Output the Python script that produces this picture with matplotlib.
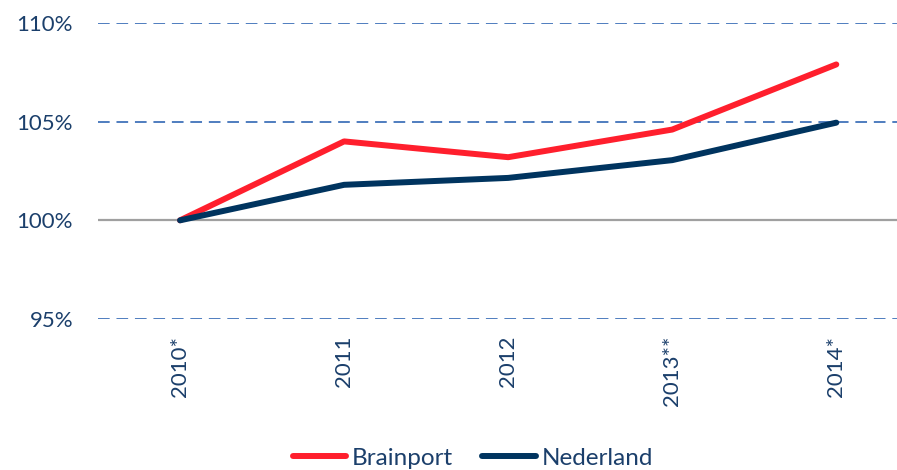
import matplotlib.pyplot as plt

jaren = ['2010*', '2011', '2012', '2013**', '2014*']
brainport = [100.0, 104.0, 103.2, 104.6, 107.9]
nederland = [100.0, 101.8, 102.15, 103.05, 104.95]
yticks = [95, 100, 105, 110]

tekst = '#1B3F6B'
plt.rcParams['font.family'] = ['Lato', 'DejaVu Sans']

fig = plt.figure(figsize=(8.97, 4.70), dpi=100)
ax = fig.add_axes([98 / 897, 1 - 319 / 470, 1 - 98 / 897, (319 - 23) / 470])

x = list(range(len(jaren)))

# rasterlijnen (gestippeld) en de 100%-lijn
for y in [95, 105, 110]:
    ax.axhline(y, color='#4F7DBF', lw=1.4, ls=(0, (6, 3.5)), zorder=1)
ax.axhline(100, color='#A0A0A0', lw=1.6, zorder=1)

ax.plot(x, brainport, color='#FF1F2D', lw=4.3, solid_capstyle='round',
        solid_joinstyle='round', label='Brainport', zorder=3)
ax.plot(x, nederland, color='#00345F', lw=4.3, solid_capstyle='round',
        solid_joinstyle='round', label='Nederland', zorder=3)

ax.set_xlim(-0.5, 4.37)
ax.set_ylim(95, 110)
ax.set_xticks(x)
ax.set_xticklabels(jaren, rotation=90, va='top', ha='center')
ax.set_yticks(yticks)
ax.set_yticklabels([f'{v}%' for v in yticks])
ax.tick_params(axis='both', length=0, labelsize=16, labelcolor=tekst)
ax.tick_params(axis='y', pad=18)
ax.tick_params(axis='x', pad=12)
for s in ax.spines.values():
    s.set_visible(False)

fig.legend(loc='center', bbox_to_anchor=(473 / 897, 1 - 458 / 470), ncol=2,
           frameon=False, fontsize=17.5, labelcolor=tekst, handlelength=2.2,
           handletextpad=0.25, columnspacing=1.2, borderaxespad=0)

fig.savefig('out.png', dpi=100)
